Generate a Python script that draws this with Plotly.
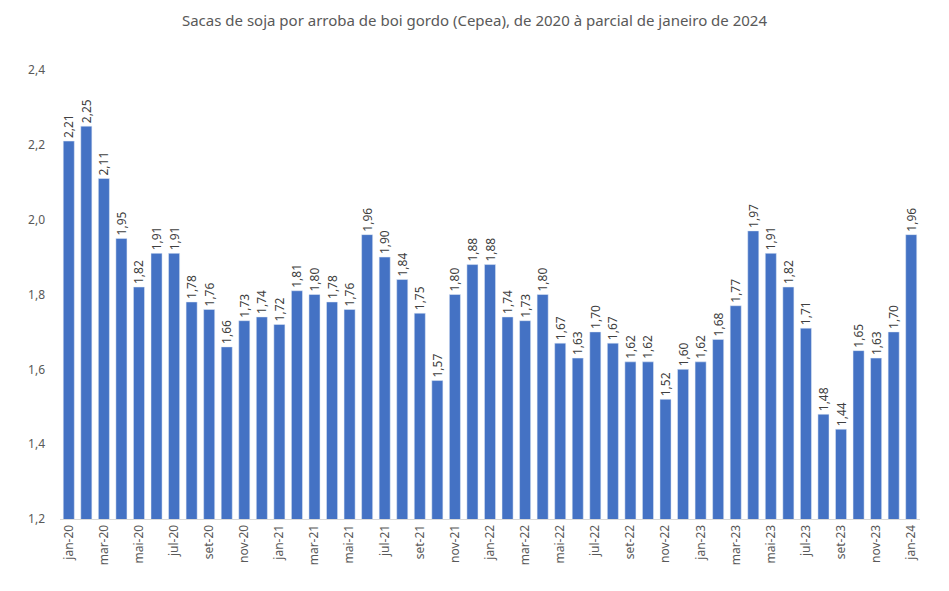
import plotly.graph_objects as go

categories = [
    "jan-20", "fev-20", "mar-20", "abr-20", "mai-20", "jun-20", "jul-20", "ago-20", "set-20", "out-20", "nov-20", "dez-20",
    "jan-21", "fev-21", "mar-21", "abr-21", "mai-21", "jun-21", "jul-21", "ago-21", "set-21", "out-21", "nov-21", "dez-21",
    "jan-22", "fev-22", "mar-22", "abr-22", "mai-22", "jun-22", "jul-22", "ago-22", "set-22", "out-22", "nov-22", "dez-22",
    "jan-23", "fev-23", "mar-23", "abr-23", "mai-23", "jun-23", "jul-23", "ago-23", "set-23", "out-23", "nov-23", "dez-23",
    "jan-24",
]
values = [
    2.21, 2.25, 2.11, 1.95, 1.82, 1.91, 1.91, 1.78, 1.76, 1.66, 1.73, 1.74,
    1.72, 1.81, 1.80, 1.78, 1.76, 1.96, 1.90, 1.84, 1.75, 1.57, 1.80, 1.88,
    1.88, 1.74, 1.73, 1.80, 1.67, 1.63, 1.70, 1.67, 1.62, 1.62, 1.52, 1.60,
    1.62, 1.68, 1.77, 1.97, 1.91, 1.82, 1.71, 1.48, 1.44, 1.65, 1.63, 1.70,
    1.96,
]
y_ticks = [1.2, 1.4, 1.6, 1.8, 2.0, 2.2, 2.4]
title = "Sacas de soja por arroba de boi gordo (Cepea), de 2020 à parcial de janeiro de 2024"

labels = [f"{v:.2f}".replace(".", ",") for v in values]

fig = go.Figure(
    go.Bar(
        x=categories,
        y=values,
        marker=dict(color="#4472C4"),
        text=labels,
        textposition="outside",
        textangle=-90,
        constraintext="none",
        cliponaxis=False,
        textfont=dict(family="Noto Sans", size=12, color="#404040"),
    )
)

fig.update_layout(
    width=949,
    height=591,
    paper_bgcolor="white",
    plot_bgcolor="white",
    margin=dict(l=60, r=29, t=70, b=72),
    bargap=0.37,
    separators=",.",
    showlegend=False,
    title=dict(
        text=title,
        x=0.5,
        xanchor="center",
        y=0.965,
        yanchor="middle",
        font=dict(family="Noto Sans", size=15, color="#595959"),
    ),
)

fig.update_xaxes(
    type="category",
    tickmode="array",
    tickvals=categories[::2],
    ticktext=categories[::2],
    tickangle=-90,
    showline=True,
    linecolor="#D9D9D9",
    linewidth=1,
    ticks="",
    showgrid=False,
    tickfont=dict(family="Noto Sans", size=12, color="#595959"),
)

fig.update_yaxes(
    range=[1.2, 2.4],
    tickvals=y_ticks,
    tickformat=".1f",
    showgrid=False,
    zeroline=False,
    showline=False,
    ticks="",
    ticklabelstandoff=14,
    tickfont=dict(family="Noto Sans", size=12, color="#595959"),
)

fig.write_html("out.html")
